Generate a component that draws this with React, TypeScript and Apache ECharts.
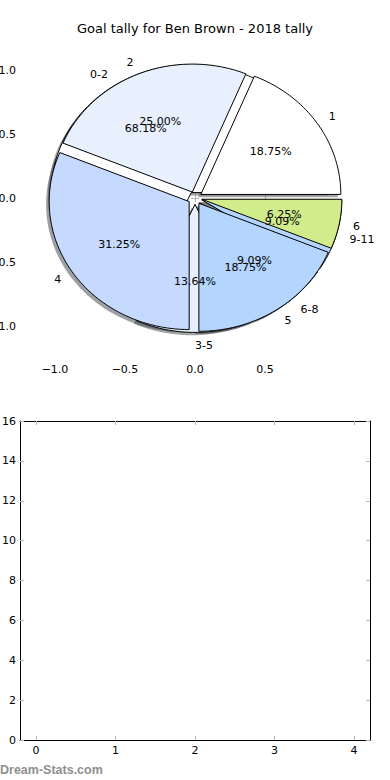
import React, { useEffect, useRef } from 'react';
import * as echarts from 'echarts';

const TITLE = 'Goal tally for Ben Brown - 2018 tally';
const WATERMARK = 'Dream-Stats.com';

// Pie 1: goals by count
const goalLabels = ['1', '2', '4', '5', '6'];
const goalCounts = [3, 4, 5, 3, 1];
// Pie 2: goals by minute band
const minuteLabels = ['0-2', '3-5', '6-8', '9-11'];
const minuteCounts = [15, 3, 2, 2];

const sliceColors = ['#ffffff', '#e8f0fe', '#c6d9fe', '#b3d5fe', '#d1ec8a'];

const pieXTicks = [-1.0, -0.5, 0.0, 0.5];
const pieYTicks = [-1.0, -0.5, 0.0, 0.5, 1.0];
const emptyXTicks = [0, 1, 2, 3, 4];

const EXPLODE = 0.05;
const FONT = 'DejaVu Sans';

type Wedge = {
  start: number;
  end: number;
  explode: number;
  color: string;
  label: string;
  pct: string;
};

function buildWedges(counts: number[], labels: string[]): Wedge[] {
  const total = counts.reduce((a, b) => a + b, 0);
  let acc = 0;
  return counts.map((c, i) => {
    const start = (acc / total) * 360;
    acc += c;
    const end = (acc / total) * 360;
    return {
      start,
      end,
      explode: EXPLODE,
      color: sliceColors[i % sliceColors.length],
      label: labels[i],
      pct: ((c / total) * 100).toFixed(2) + '%',
    };
  });
}

const minuteWedges = buildWedges(minuteCounts, minuteLabels);
const goalWedges = buildWedges(goalCounts, goalLabels);
const allWedges = [...minuteWedges, ...goalWedges];

function shade(hex: string): string {
  const v = parseInt(hex.slice(1), 16);
  const r = Math.round(((v >> 16) & 255) * 0.3);
  const g = Math.round(((v >> 8) & 255) * 0.3);
  const b = Math.round((v & 255) * 0.3);
  return `rgba(${r},${g},${b},0.5)`;
}

function wedgePoints(api: any, w: Wedge, dx = 0, dy = 0) {
  const mid = (((w.start + w.end) / 2) * Math.PI) / 180;
  const cx = w.explode * Math.cos(mid) + dx;
  const cy = w.explode * Math.sin(mid) + dy;
  const pts: number[][] = [api.coord([cx, cy])];
  const n = Math.max(2, Math.ceil(w.end - w.start));
  for (let k = 0; k <= n; k++) {
    const a = ((w.start + ((w.end - w.start) * k) / n) * Math.PI) / 180;
    pts.push(api.coord([cx + Math.cos(a), cy + Math.sin(a)]));
  }
  return pts;
}

function wedgeSeries(wedges: Wedge[], mode: 'shadow' | 'face') {
  return {
    type: 'custom',
    coordinateSystem: 'cartesian2d',
    xAxisIndex: 0,
    yAxisIndex: 0,
    silent: true,
    data: wedges.map((w) => [w.start, w.end]),
    renderItem: (params: any, api: any) => {
      const w = wedges[params.dataIndex];
      if (mode === 'shadow') {
        return {
          type: 'polygon',
          shape: { points: wedgePoints(api, w, -0.022, -0.022) },
          style: { fill: shade(w.color), stroke: 'none' },
        };
      }
      return {
        type: 'polygon',
        shape: { points: wedgePoints(api, w) },
        style: { fill: w.color, stroke: '#000', lineWidth: 1, lineJoin: 'miter' },
      };
    },
  };
}

const labelSeries = {
  type: 'custom',
  coordinateSystem: 'cartesian2d',
  xAxisIndex: 0,
  yAxisIndex: 0,
  silent: true,
  data: allWedges.map((w) => [w.start, w.end]),
  renderItem: (params: any, api: any) => {
    const w = allWedges[params.dataIndex];
    const mid = (((w.start + w.end) / 2) * Math.PI) / 180;
    const ex = w.explode * Math.cos(mid);
    const ey = w.explode * Math.sin(mid);
    const p = api.coord([ex + 0.6 * Math.cos(mid), ey + 0.6 * Math.sin(mid)]);
    const lx = ex + 1.1 * Math.cos(mid);
    const l = api.coord([lx, ey + 1.1 * Math.sin(mid)]);
    const align = lx > -1e-9 ? 'left' : 'right';
    return {
      type: 'group',
      children: [
        {
          type: 'text',
          x: p[0],
          y: p[1],
          style: {
            text: w.pct,
            fill: '#000',
            fontSize: 11,
            fontFamily: FONT,
            align: 'center',
            verticalAlign: 'middle',
          },
        },
        {
          type: 'text',
          x: l[0],
          y: l[1],
          style: {
            text: w.label,
            fill: '#000',
            fontSize: 11,
            fontFamily: FONT,
            align,
            verticalAlign: 'middle',
          },
        },
      ],
    };
  },
};

const tickStyle = { color: '#b4b4b4', width: 1 };
const labelStyle = { color: '#000', fontSize: 11, fontFamily: FONT };
const fmt = (v: number) => (v < 0 ? '\u2212' : '') + Math.abs(v).toFixed(1);

export default function App() {
  const ref = useRef<HTMLDivElement>(null);
  useEffect(() => {
    if (!ref.current) return;
    const chart = echarts.init(ref.current, null, { renderer: 'svg' });
    chart.setOption({
      animation: false,
      backgroundColor: '#fff',
      textStyle: { fontFamily: FONT },
      title: {
        text: TITLE,
        left: 'center',
        top: 22,
        padding: 0,
        textStyle: { fontSize: 13, fontWeight: 'normal', color: '#000', fontFamily: FONT },
      },
      grid: [
        { left: 20, top: 38, width: 350, height: 320, containLabel: false, outerBoundsMode: 'none' },
        { left: 20, top: 421, width: 350, height: 319, containLabel: false, outerBoundsMode: 'none' },
      ],
      xAxis: [
        {
          gridIndex: 0, type: 'value', min: -1.25, max: 1.25, position: 'bottom',
          axisLine: { show: false }, splitLine: { show: false },
          axisTick: { show: true, inside: true, length: 4, lineStyle: tickStyle, customValues: pieXTicks },
          axisLabel: { ...labelStyle, margin: 6, customValues: pieXTicks, formatter: fmt },
        },
        {
          gridIndex: 0, type: 'value', min: -1.25, max: 1.25, position: 'top',
          axisLine: { show: false }, splitLine: { show: false },
          axisTick: { show: true, inside: true, length: 4, lineStyle: tickStyle, customValues: pieXTicks },
          axisLabel: { show: false },
        },
        {
          gridIndex: 1, type: 'value', min: -0.2, max: 4.2, position: 'bottom',
          axisLine: { show: true, onZero: false, lineStyle: { color: '#000', width: 1 } }, splitLine: { show: false },
          axisTick: { show: true, inside: true, length: 4, lineStyle: tickStyle, customValues: emptyXTicks },
          axisLabel: { ...labelStyle, margin: 5, customValues: emptyXTicks, formatter: (v: number) => String(v) },
        },
        {
          gridIndex: 1, type: 'value', min: -0.2, max: 4.2, position: 'top',
          axisLine: { show: true, onZero: false, lineStyle: { color: '#000', width: 1 } }, splitLine: { show: false },
          axisTick: { show: true, inside: true, length: 4, lineStyle: tickStyle, customValues: emptyXTicks },
          axisLabel: { show: false },
        },
      ],
      yAxis: [
        {
          gridIndex: 0, type: 'value', min: -1.25, max: 1.25, position: 'left',
          axisLine: { show: false }, splitLine: { show: false },
          axisTick: { show: true, inside: true, length: 4, lineStyle: tickStyle, customValues: pieYTicks },
          axisLabel: { ...labelStyle, margin: 4, customValues: pieYTicks, formatter: fmt },
        },
        {
          gridIndex: 0, type: 'value', min: -1.25, max: 1.25, position: 'right',
          axisLine: { show: false }, splitLine: { show: false },
          axisTick: { show: true, inside: true, length: 4, lineStyle: tickStyle, customValues: pieYTicks },
          axisLabel: { show: false },
        },
        {
          gridIndex: 1, type: 'value', min: 0, max: 16, interval: 2, position: 'left',
          axisLine: { show: true, onZero: false, lineStyle: { color: '#000', width: 1 } }, splitLine: { show: false },
          axisTick: { show: true, inside: true, length: 4, lineStyle: tickStyle },
          axisLabel: { ...labelStyle, margin: 4 },
        },
        {
          gridIndex: 1, type: 'value', min: 0, max: 16, interval: 2, position: 'right',
          axisLine: { show: true, onZero: false, lineStyle: { color: '#000', width: 1 } }, splitLine: { show: false },
          axisTick: { show: true, inside: true, length: 4, lineStyle: tickStyle },
          axisLabel: { show: false },
        },
      ],
      graphic: [
        {
          type: 'text',
          left: 0,
          top: 763,
          style: { text: WATERMARK, fill: '#8f8f8f', fontSize: 12.5, fontWeight: 'bold', fontFamily: 'Liberation Sans' },
        },
      ],
      series: [
        wedgeSeries(allWedges, 'shadow'),
        wedgeSeries(minuteWedges, 'face'),
        wedgeSeries(goalWedges, 'face'),
        labelSeries,
        { type: 'line', xAxisIndex: 2, yAxisIndex: 2, data: [], silent: true },
      ],
    });
    return () => chart.dispose();
  }, []);
  return (
    <div
      ref={ref}
      style={{ position: 'absolute', left: 0, top: 0, width: 390, height: 780 }}
    />
  );
}
